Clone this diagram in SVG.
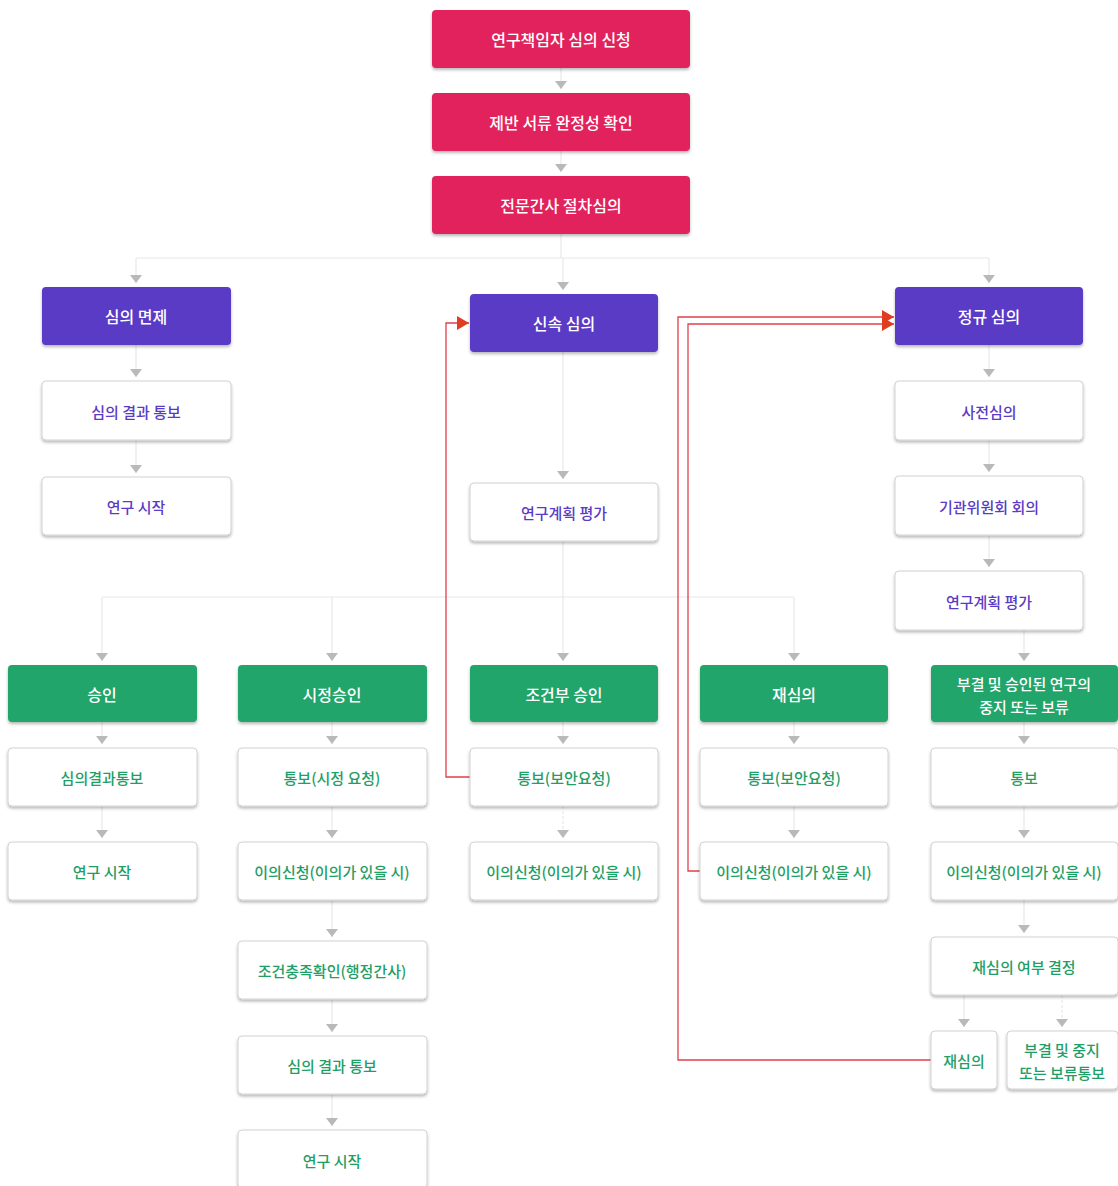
<svg xmlns="http://www.w3.org/2000/svg" width="1118" height="1186" viewBox="0 0 1118 1186">
<defs>
<filter id="sh" x="-10%" y="-20%" width="120%" height="150%">
<feDropShadow dx="0" dy="2" stdDeviation="1.8" flood-color="#000" flood-opacity="0.28"/>
</filter>
<marker id="ga" viewBox="0 0 8 12" refX="8" refY="6" markerWidth="8" markerHeight="12" markerUnits="userSpaceOnUse" orient="auto">
<path d="M0,0 L8,6 L0,12 z" fill="#b9b9b9"/>
</marker>
<marker id="ra" viewBox="0 0 12 14" refX="12" refY="7" markerWidth="12" markerHeight="14" markerUnits="userSpaceOnUse" orient="auto">
<path d="M0,0 L12,7 L0,14 z" fill="#e03c22"/>
</marker>
</defs>
<style>
text{font-family:"Noto Sans CJK KR","Noto Sans",sans-serif;font-size:15px;font-weight:500;text-anchor:middle;dominant-baseline:central}
.red rect{fill:#e2245c;filter:url(#sh)}
.pur rect{fill:#5a3bc6;filter:url(#sh)}
.grn rect{fill:#22a56b;filter:url(#sh)}
.red text,.pur text,.grn text{fill:#fff;font-size:16px}
.grn text.s{font-size:15px}
.wp rect,.wg rect{fill:#fff;stroke:#d2d2d2;stroke-width:1;filter:url(#sh)}
.wp text{fill:#5a3bc6}
.wg text{fill:#1f9e66}
.c{fill:none;stroke:#e8e8e8;stroke-width:1.2}
.r{fill:none;stroke:#e0404a;stroke-width:1.3}
</style>
<rect width="1118" height="1186" fill="#fff"/>

<g id="connectors">
<path class="c" d="M561,68 V89" marker-end="url(#ga)"/>
<path class="c" d="M561,151 V172" marker-end="url(#ga)"/>
<path class="c" d="M561,234 V258 M136,258 H989"/>
<path class="c" d="M136,258 V283" marker-end="url(#ga)"/>
<path class="c" d="M563,258 V290" marker-end="url(#ga)"/>
<path class="c" d="M989,258 V283" marker-end="url(#ga)"/>
<path class="c" d="M136,345 V377" marker-end="url(#ga)"/>
<path class="c" d="M136,440 V473" marker-end="url(#ga)"/>
<path class="c" d="M989,345 V377" marker-end="url(#ga)"/>
<path class="c" d="M989,440 V472" marker-end="url(#ga)"/>
<path class="c" d="M989,535 V567" marker-end="url(#ga)"/>
<path class="c" d="M563,352 V479" marker-end="url(#ga)"/>
<path class="c" d="M563,541 V661" marker-end="url(#ga)"/>
<path class="c" d="M102,597 H794"/>
<path class="c" d="M102,597 V661" marker-end="url(#ga)"/>
<path class="c" d="M332,597 V661" marker-end="url(#ga)"/>
<path class="c" d="M794,597 V661" marker-end="url(#ga)"/>
<path class="c" d="M1024,630 V661" marker-end="url(#ga)"/>
<path class="c" d="M102,722 V744" marker-end="url(#ga)"/>
<path class="c" d="M332,722 V744" marker-end="url(#ga)"/>
<path class="c" d="M563,722 V744" marker-end="url(#ga)"/>
<path class="c" d="M794,722 V744" marker-end="url(#ga)"/>
<path class="c" d="M1024,722 V744" marker-end="url(#ga)"/>
<path class="c" d="M102,806 V838" marker-end="url(#ga)"/>
<path class="c" d="M332,806 V838" marker-end="url(#ga)"/>
<path class="c" d="M563,806 V838" marker-end="url(#ga)" stroke-dasharray="3,2"/>
<path class="c" d="M794,806 V838" marker-end="url(#ga)"/>
<path class="c" d="M1024,806 V838" marker-end="url(#ga)"/>
<path class="c" d="M332,900 V937" marker-end="url(#ga)"/>
<path class="c" d="M332,999 V1032" marker-end="url(#ga)"/>
<path class="c" d="M332,1094 V1126" marker-end="url(#ga)"/>
<path class="c" d="M1024,900 V933" marker-end="url(#ga)"/>
<path class="c" d="M964,995 V1027" marker-end="url(#ga)"/>
<path class="c" d="M1062,995 V1027" marker-end="url(#ga)" stroke-dasharray="3,2"/>
<path class="r" d="M470,777 H446 V323 H469" marker-end="url(#ra)"/>
<path class="r" d="M931,1060 H678 V317 H894" marker-end="url(#ra)"/>
<path class="r" d="M700,871 H688 V324 H894" marker-end="url(#ra)"/>
</g>

<g id="n1" class="red"><rect x="432" y="10" width="258" height="58" rx="4"/><text x="561" y="39">연구책임자 심의 신청</text></g>
<g id="n2" class="red"><rect x="432" y="93" width="258" height="58" rx="4"/><text x="561" y="122">제반 서류 완정성 확인</text></g>
<g id="n3" class="red"><rect x="432" y="176" width="258" height="58" rx="4"/><text x="561" y="205">전문간사 절차심의</text></g>

<g id="p1" class="pur"><rect x="42" y="287" width="189" height="58" rx="4"/><text x="136" y="316">심의 면제</text></g>
<g id="p2" class="pur"><rect x="470" y="294" width="188" height="58" rx="4"/><text x="564" y="323">신속 심의</text></g>
<g id="p3" class="pur"><rect x="895" y="287" width="188" height="58" rx="4"/><text x="989" y="316">정규 심의</text></g>

<g id="w1" class="wp"><rect x="42" y="381" width="189" height="59" rx="4"/><text x="136" y="411">심의 결과 통보</text></g>
<g id="w2" class="wp"><rect x="42" y="477" width="189" height="58" rx="4"/><text x="136" y="506">연구 시작</text></g>
<g id="w3" class="wp"><rect x="470" y="483" width="188" height="58" rx="4"/><text x="564" y="512">연구계획 평가</text></g>
<g id="w4" class="wp"><rect x="895" y="381" width="188" height="59" rx="4"/><text x="989" y="411">사전심의</text></g>
<g id="w5" class="wp"><rect x="895" y="476" width="188" height="59" rx="4"/><text x="989" y="506">기관위원회 회의</text></g>
<g id="w6" class="wp"><rect x="895" y="571" width="188" height="59" rx="4"/><text x="989" y="601">연구계획 평가</text></g>

<g id="g1" class="grn"><rect x="8" y="665" width="189" height="57" rx="4"/><text x="102" y="694">승인</text></g>
<g id="g2" class="grn"><rect x="238" y="665" width="189" height="57" rx="4"/><text x="332" y="694">시정승인</text></g>
<g id="g3" class="grn"><rect x="470" y="665" width="188" height="57" rx="4"/><text x="564" y="694">조건부 승인</text></g>
<g id="g4" class="grn"><rect x="700" y="665" width="188" height="57" rx="4"/><text x="794" y="694">재심의</text></g>
<g id="g5" class="grn"><rect x="931" y="665" width="187" height="57" rx="4"/><text class="s" x="1024" y="683">부결 및 승인된 연구의</text><text class="s" x="1024" y="706">중지 또는 보류</text></g>

<g id="a1" class="wg"><rect x="8" y="748" width="189" height="58" rx="4"/><text x="102" y="777">심의결과통보</text></g>
<g id="a2" class="wg"><rect x="8" y="842" width="189" height="58" rx="4"/><text x="102" y="871">연구 시작</text></g>
<g id="b1" class="wg"><rect x="238" y="748" width="189" height="58" rx="4"/><text x="332" y="777">통보(시정 요청)</text></g>
<g id="b2" class="wg"><rect x="238" y="842" width="189" height="58" rx="4"/><text x="332" y="871">이의신청(이의가 있을 시)</text></g>
<g id="b3" class="wg"><rect x="238" y="941" width="189" height="58" rx="4"/><text x="332" y="970">조건충족확인(행정간사)</text></g>
<g id="b4" class="wg"><rect x="238" y="1036" width="189" height="58" rx="4"/><text x="332" y="1065">심의 결과 통보</text></g>
<g id="b5" class="wg"><rect x="238" y="1130" width="189" height="58" rx="4"/><text x="332" y="1160">연구 시작</text></g>
<g id="c1" class="wg"><rect x="470" y="748" width="188" height="58" rx="4"/><text x="564" y="777">통보(보안요청)</text></g>
<g id="c2" class="wg"><rect x="470" y="842" width="188" height="58" rx="4"/><text x="564" y="871">이의신청(이의가 있을 시)</text></g>
<g id="d1" class="wg"><rect x="700" y="748" width="188" height="58" rx="4"/><text x="794" y="777">통보(보안요청)</text></g>
<g id="d2" class="wg"><rect x="700" y="842" width="188" height="58" rx="4"/><text x="794" y="871">이의신청(이의가 있을 시)</text></g>
<g id="e1" class="wg"><rect x="931" y="748" width="187" height="58" rx="4"/><text x="1024" y="777">통보</text></g>
<g id="e2" class="wg"><rect x="931" y="842" width="187" height="58" rx="4"/><text x="1024" y="871">이의신청(이의가 있을 시)</text></g>
<g id="e3" class="wg"><rect x="931" y="937" width="187" height="58" rx="4"/><text x="1024" y="966">재심의 여부 결정</text></g>
<g id="e4" class="wg"><rect x="931" y="1031" width="66" height="58" rx="4"/><text x="964" y="1060">재심의</text></g>
<g id="e5" class="wg"><rect x="1007" y="1031" width="111" height="58" rx="4"/><text x="1062" y="1049">부결 및 중지</text><text x="1062" y="1072">또는 보류통보</text></g>
</svg>
